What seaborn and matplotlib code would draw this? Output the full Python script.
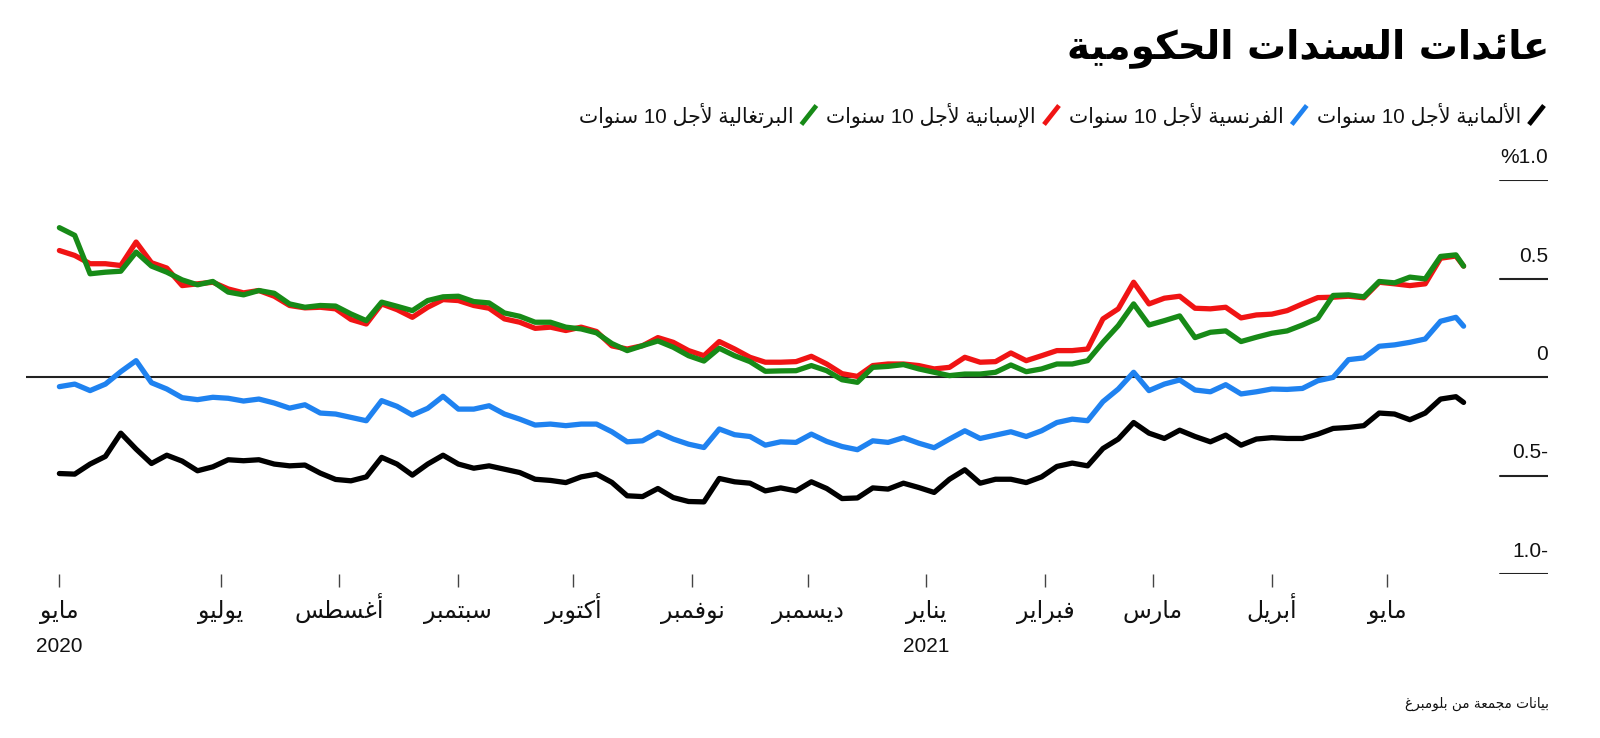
import re
import numpy as np
import pandas as pd
import matplotlib
matplotlib.use("Agg")
import matplotlib.pyplot as plt
import matplotlib.dates as mdates
from matplotlib.lines import Line2D
from matplotlib.transforms import ScaledTranslation, blended_transform_factory
import seaborn as sns

# ---------------- data ----------------
TITLE = "عائدات السندات الحكومية"
SOURCE = "بيانات مجمعة من بلومبرغ"
SERIES = ["الألمانية لأجل 10 سنوات", "الفرنسية لأجل 10 سنوات",
          "الإسبانية لأجل 10 سنوات", "البرتغالية لأجل 10 سنوات"]
COLORS = ["#000000", "#1f82f0", "#f01414", "#178a17"]

dates = pd.date_range("2020-05-20", periods=92, freq="4D").append(pd.DatetimeIndex(["2021-05-21"]))

germany = [-0.490, -0.493, -0.442, -0.403, -0.285, -0.366, -0.439, -0.397, -0.427, -0.476,
           -0.456, -0.420, -0.425, -0.420, -0.442, -0.451, -0.447, -0.488, -0.520,
           -0.527, -0.507, -0.408, -0.442, -0.498, -0.442, -0.397, -0.442, -0.463, -0.451,
           -0.468, -0.485, -0.519, -0.525, -0.536, -0.507, -0.493, -0.535,
           -0.603, -0.607, -0.566, -0.612, -0.632, -0.634, -0.515, -0.532, -0.539, -0.578,
           -0.563, -0.578, -0.532, -0.566, -0.617, -0.614, -0.563, -0.569,
           -0.539, -0.561, -0.586, -0.519, -0.471, -0.539, -0.519, -0.519, -0.536, -0.507,
           -0.454, -0.437, -0.451, -0.363, -0.315, -0.231, -0.285, -0.312, -0.270,
           -0.302, -0.329, -0.295, -0.346, -0.315, -0.308, -0.312, -0.312, -0.290, -0.261,
           -0.256, -0.247, -0.183, -0.188, -0.217, -0.183, -0.112, -0.100,
           -0.129]
france = [-0.049, -0.036, -0.069, -0.036, 0.027, 0.083, -0.029, -0.061, -0.105, -0.115,
          -0.103, -0.108, -0.122, -0.112, -0.132, -0.158, -0.141, -0.183, -0.188,
          -0.205, -0.222, -0.120, -0.149, -0.193, -0.159, -0.098, -0.163, -0.163, -0.146,
          -0.188, -0.214, -0.244, -0.239, -0.247, -0.239, -0.239, -0.278,
          -0.329, -0.324, -0.281, -0.315, -0.341, -0.358, -0.264, -0.293, -0.302, -0.346,
          -0.329, -0.332, -0.290, -0.327, -0.353, -0.369, -0.324, -0.332,
          -0.308, -0.336, -0.359, -0.315, -0.273, -0.312, -0.295, -0.278, -0.302, -0.273,
          -0.231, -0.214, -0.222, -0.125, -0.061, 0.024, -0.069, -0.036, -0.015,
          -0.066, -0.075, -0.039, -0.086, -0.075, -0.061, -0.063, -0.058, -0.019, -0.002,
          0.088, 0.097, 0.156, 0.163, 0.176, 0.193, 0.283, 0.303,
          0.258]
spain = [0.642, 0.617, 0.575, 0.575, 0.566, 0.685, 0.580, 0.553, 0.464, 0.473,
         0.481, 0.447, 0.427, 0.439, 0.410, 0.363, 0.351, 0.354, 0.346,
         0.292, 0.269, 0.371, 0.342, 0.303, 0.354, 0.393, 0.388, 0.363, 0.349,
         0.295, 0.278, 0.247, 0.253, 0.236, 0.253, 0.231, 0.158,
         0.142, 0.159, 0.200, 0.176, 0.134, 0.108, 0.180, 0.142, 0.100, 0.075,
         0.075, 0.078, 0.105, 0.066, 0.017, 0.003, 0.058, 0.066,
         0.066, 0.058, 0.041, 0.049, 0.100, 0.075, 0.078, 0.122, 0.083, 0.108,
         0.134, 0.134, 0.142, 0.295, 0.346, 0.481, 0.371, 0.400, 0.410,
         0.349, 0.346, 0.354, 0.300, 0.315, 0.319, 0.337, 0.371, 0.403, 0.405,
         0.410, 0.402, 0.481, 0.473, 0.464, 0.473, 0.603, 0.614,
         0.563]
portugal = [0.758, 0.719, 0.524, 0.532, 0.537, 0.634, 0.563, 0.532, 0.493, 0.468,
            0.485, 0.431, 0.417, 0.439, 0.425, 0.371, 0.354, 0.363, 0.360,
            0.320, 0.286, 0.380, 0.359, 0.337, 0.388, 0.407, 0.410, 0.383, 0.376,
            0.325, 0.308, 0.278, 0.278, 0.253, 0.244, 0.224, 0.170,
            0.134, 0.159, 0.183, 0.151, 0.108, 0.081, 0.146, 0.108, 0.078, 0.029,
            0.031, 0.032, 0.058, 0.032, -0.014, -0.027, 0.049, 0.054,
            0.063, 0.041, 0.024, 0.007, 0.015, 0.015, 0.024, 0.061, 0.027, 0.041,
            0.066, 0.066, 0.083, 0.176, 0.261, 0.371, 0.264, 0.286, 0.310,
            0.200, 0.227, 0.234, 0.180, 0.202, 0.222, 0.234, 0.264, 0.298, 0.414,
            0.417, 0.407, 0.485, 0.478, 0.507, 0.498, 0.612, 0.620,
            0.563]

TICK_DATES = ["2020-05-20", "2020-07-01", "2020-08-01", "2020-09-01", "2020-10-01",
              "2020-11-01", "2020-12-01", "2021-01-01", "2021-02-01", "2021-03-01",
              "2021-04-01", "2021-05-01"]
TICK_LABELS = ["مايو", "يوليو", "أغسطس", "سبتمبر", "أكتوبر", "نوفمبر", "ديسمبر",
               "يناير", "فبراير", "مارس", "أبريل", "مايو"]
YEAR_DATES = ["2020-05-20", "2021-01-01"]
YEAR_LABELS = ["2020", "2021"]
Y_TICKS = [1.0, 0.5, 0.0, -0.5, -1.0]
Y_LABELS = ["%1.0", "0.5", "0", "0.5-", "1.0-"]

# ---------------- minimal Arabic shaping (presentation forms + RTL order) ----------------
RIGHT = {0x0622: 0xFE81, 0x0623: 0xFE83, 0x0624: 0xFE85, 0x0625: 0xFE87, 0x0627: 0xFE8D,
         0x0629: 0xFE93, 0x062F: 0xFEA9, 0x0630: 0xFEAB, 0x0631: 0xFEAD, 0x0632: 0xFEAF,
         0x0648: 0xFEED, 0x0649: 0xFEEF}
DUAL = {0x0626: 0xFE89, 0x0628: 0xFE8F, 0x062A: 0xFE95, 0x062B: 0xFE99, 0x062C: 0xFE9D,
        0x062D: 0xFEA1, 0x062E: 0xFEA5, 0x0633: 0xFEB1, 0x0634: 0xFEB5, 0x0635: 0xFEB9,
        0x0636: 0xFEBD, 0x0637: 0xFEC1, 0x0638: 0xFEC5, 0x0639: 0xFEC9, 0x063A: 0xFECD,
        0x0641: 0xFED1, 0x0642: 0xFED5, 0x0643: 0xFED9, 0x0644: 0xFEDD, 0x0645: 0xFEE1,
        0x0646: 0xFEE5, 0x0647: 0xFEE9, 0x064A: 0xFEF1}
ISO = {0x0621: 0xFE80}
LAMALEF = {0x0622: 0xFEF5, 0x0623: 0xFEF7, 0x0625: 0xFEF9, 0x0627: 0xFEFB}


def shape(s):
    units = []
    i = 0
    while i < len(s):
        c = ord(s[i])
        if c == 0x0644 and i + 1 < len(s) and ord(s[i + 1]) in LAMALEF:
            units.append(("LA", ord(s[i + 1])))
            i += 2
        else:
            units.append(("C", c))
            i += 1

    def jt(u):
        if u[0] == "LA":
            return "R"
        c = u[1]
        if c in DUAL:
            return "D"
        if c in RIGHT:
            return "R"
        if c in ISO:
            return "U"
        return None

    out = []
    for k, u in enumerate(units):
        t = jt(u)
        prev = jt(units[k - 1]) if k > 0 else None
        nxt = jt(units[k + 1]) if k + 1 < len(units) else None
        cp = t in ("D", "R") and prev == "D"
        cn = t == "D" and nxt in ("D", "R")
        if u[0] == "LA":
            out.append(chr(LAMALEF[u[1]] + (1 if cp else 0)))
        elif t == "D":
            idx = 3 if (cp and cn) else 1 if cp else 2 if cn else 0
            out.append(chr(DUAL[u[1]] + idx))
        elif t == "R":
            out.append(chr(RIGHT[u[1]] + (1 if cp else 0)))
        elif t == "U":
            out.append(chr(ISO[u[1]]))
        else:
            out.append(chr(u[1]))
    shaped = "".join(out)
    tokens = re.findall(r"[0-9A-Za-z.%]+|[^0-9A-Za-z.%]", shaped)
    return "".join(reversed(tokens))


# ---------------- build frame ----------------
df = pd.concat([
    pd.DataFrame({"date": dates, "yield": vals, "series": name})
    for name, vals in zip(SERIES, [germany, france, spain, portugal])
], ignore_index=True)

sns.set_style("white")
plt.rcParams["font.family"] = ["Liberation Sans", "DejaVu Sans"]
AR = ["DejaVu Sans"]
NUM = ["Liberation Sans", "DejaVu Sans"]

W, H = 1600, 738
fig = plt.figure(figsize=(W / 100, H / 100), dpi=100)
ax = fig.add_axes([26 / W, 1 - 574 / H, (1548 - 26) / W, (574 - 180) / H])

sns.lineplot(data=df, x="date", y="yield", hue="series", hue_order=SERIES,
             palette=COLORS, linewidth=3.8, legend=False, ax=ax, zorder=3,
             solid_joinstyle="round", solid_capstyle="round")

jan1 = mdates.date2num(pd.Timestamp("2021-01-01"))
ax.set_xlim(jan1 - 234.7, jan1 + 162.0)
ax.set_ylim(-1.0, 1.0)
for s in ax.spines.values():
    s.set_visible(False)
ax.set_xlabel("")
ax.set_ylabel("")
ax.set_yticks([])

# zero line and right-side stubs
ax.axhline(0, color="#222222", lw=1.5, zorder=2)
stub_start = (1500 - 26) / (1548 - 26)
ytrans = blended_transform_factory(ax.transAxes, ax.transData)
for v, lab in zip(Y_TICKS, Y_LABELS):
    if v != 0:
        ax.axhline(v, xmin=stub_start, xmax=1, color="#222222", lw=1.5, zorder=2)
    ax.text(1.0, v, lab, transform=ytrans + ScaledTranslation(0, 17 / 100, fig.dpi_scale_trans),
            ha="right", va="baseline", fontsize=15, family=NUM, color="#111111")

# x ticks (marks only; labels drawn on a common baseline)
tick_nums = [mdates.date2num(pd.Timestamp(d)) for d in TICK_DATES]
ax.set_xticks(tick_nums)
ax.set_xticklabels([])
ax.tick_params(axis="x", direction="out", length=9.5, width=1.0, color="#444444",
               bottom=True, labelbottom=False)
xtrans = blended_transform_factory(ax.transData, ax.transAxes)
for xn, lab in zip(tick_nums, TICK_LABELS):
    ax.text(xn, 0, shape(lab),
            transform=xtrans + ScaledTranslation(0, -44 / 100, fig.dpi_scale_trans),
            ha="center", va="baseline", fontsize=17, family=AR, color="#111111")
for d, lab in zip(YEAR_DATES, YEAR_LABELS):
    ax.text(mdates.date2num(pd.Timestamp(d)), 0, lab,
            transform=xtrans + ScaledTranslation(0, -72 / 100, fig.dpi_scale_trans),
            ha="center", va="center", fontsize=15, family=NUM, color="#111111")

# title and source
fig.text(1549 / W, 1 - 48 / H, shape(TITLE), ha="right", va="center", fontsize=28,
         weight="bold", family=AR, color="#000000")
fig.text(1549 / W, 1 - 704 / H, shape(SOURCE), ha="right", va="center", fontsize=9.8,
         family=AR, color="#111111")

# legend (right to left)
renderer = fig.canvas.get_renderer()
x = 1544.0
yc = 115.0
for name, color in zip(SERIES, COLORS):
    sw, sh = 15, 19
    fig.add_artist(Line2D([(x - sw) / W, x / W], [1 - (yc + sh / 2) / H, 1 - (yc - sh / 2) / H],
                          transform=fig.transFigure, color=color, lw=3.4, solid_capstyle="butt"))
    x -= sw + 8
    t = fig.text(x / W, 1 - yc / H, shape(name), ha="right", va="center", fontsize=14.8,
                 family=NUM, color="#111111")
    wpx = t.get_window_extent(renderer).width
    x -= wpx + 10

fig.savefig("out.png", dpi=100, facecolor="white")
